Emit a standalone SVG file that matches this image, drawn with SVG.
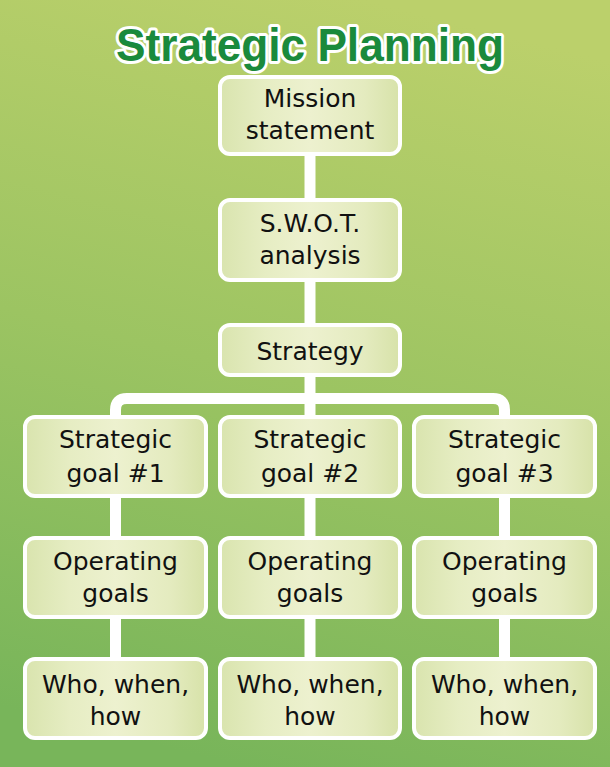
<svg xmlns="http://www.w3.org/2000/svg" width="610" height="767" viewBox="0 0 610 767">
<defs>
<linearGradient id="bg" x1="0.6" y1="0" x2="0.4" y2="1">
<stop offset="0" stop-color="#bbd06b"/>
<stop offset="0.5" stop-color="#9cc462"/>
<stop offset="1" stop-color="#78b55a"/>
</linearGradient>
<linearGradient id="box" x1="0" y1="0" x2="1" y2="0">
<stop offset="0" stop-color="#d9e4ae"/>
<stop offset="0.25" stop-color="#e6edc3"/>
<stop offset="0.5" stop-color="#edf1cf"/>
<stop offset="0.8" stop-color="#e4ebbf"/>
<stop offset="1" stop-color="#d7e2a9"/>
</linearGradient>
</defs>
<style>
.node rect{fill:url(#box);stroke:#ffffff;stroke-width:4}
.node text{font-family:"DejaVu Sans",sans-serif;font-size:25px;fill:#111111;text-anchor:middle}
.conn{fill:none;stroke:#ffffff;stroke-width:11}
.title{font-family:"Liberation Sans",Arial,sans-serif;font-weight:bold;font-size:46px;fill:#1a8a3c;stroke:#ffffff;stroke-width:6;stroke-linejoin:round;paint-order:stroke;text-anchor:middle}
</style>
<rect width="610" height="767" fill="url(#bg)"/>
<text class="title" x="310" y="61" textLength="388" lengthAdjust="spacingAndGlyphs">Strategic Planning</text>
<g id="connectors">
<path class="conn" d="M310,150 V205"/>
<path class="conn" d="M310,275 V330"/>
<path class="conn" d="M310,370 V420"/>
<path class="conn" d="M115.5,420 V410 Q115.5,398.5 127,398.5 H493 Q504.5,398.5 504.5,410 V420"/>
<path class="conn" d="M115.5,490 V542 M310,490 V542 M504.5,490 V542"/>
<path class="conn" d="M115.5,610 V662 M310,610 V662 M504.5,610 V662"/>
</g>
<g id="mission" class="node"><rect x="220" y="77" width="180" height="77" rx="10"/><text x="310" y="107">Mission</text><text x="310" y="139">statement</text></g>
<g id="swot" class="node"><rect x="220" y="200" width="180" height="80" rx="10"/><text x="310" y="232">S.W.O.T.</text><text x="310" y="264">analysis</text></g>
<g id="strategy" class="node"><rect x="220" y="325" width="180" height="50" rx="10"/><text x="310" y="360">Strategy</text></g>
<g id="goal1" class="node"><rect x="25" y="417" width="181" height="79" rx="10"/><text x="115.5" y="448">Strategic</text><text x="115.5" y="482">goal #1</text></g>
<g id="goal2" class="node"><rect x="220" y="417" width="180" height="79" rx="10"/><text x="310" y="448">Strategic</text><text x="310" y="482">goal #2</text></g>
<g id="goal3" class="node"><rect x="414" y="417" width="181" height="79" rx="10"/><text x="504.5" y="448">Strategic</text><text x="504.5" y="482">goal #3</text></g>
<g id="op1" class="node"><rect x="25" y="538" width="181" height="79" rx="10"/><text x="115.5" y="570">Operating</text><text x="115.5" y="602">goals</text></g>
<g id="op2" class="node"><rect x="220" y="538" width="180" height="79" rx="10"/><text x="310" y="570">Operating</text><text x="310" y="602">goals</text></g>
<g id="op3" class="node"><rect x="414" y="538" width="181" height="79" rx="10"/><text x="504.5" y="570">Operating</text><text x="504.5" y="602">goals</text></g>
<g id="who1" class="node"><rect x="25" y="659" width="181" height="79" rx="10"/><text x="115.5" y="693">Who, when,</text><text x="115.5" y="725">how</text></g>
<g id="who2" class="node"><rect x="220" y="659" width="180" height="79" rx="10"/><text x="310" y="693">Who, when,</text><text x="310" y="725">how</text></g>
<g id="who3" class="node"><rect x="414" y="659" width="181" height="79" rx="10"/><text x="504.5" y="693">Who, when,</text><text x="504.5" y="725">how</text></g>
</svg>
